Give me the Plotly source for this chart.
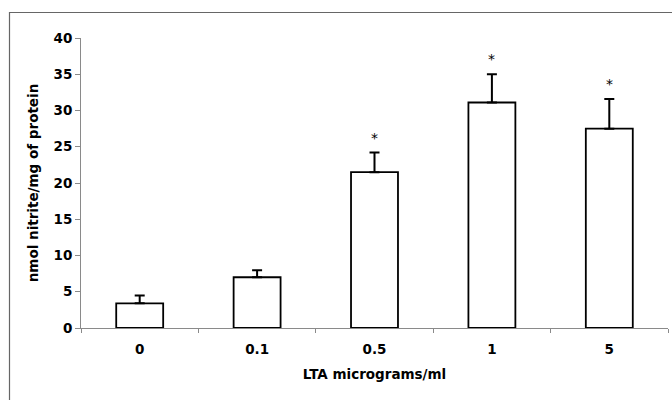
import plotly.graph_objects as go

categories = ["0", "0.1", "0.5", "1", "5"]
means = [3.4, 7.0, 21.5, 31.1, 27.5]
sem = [1.1, 0.95, 2.7, 3.9, 4.1]
significant = [False, False, True, True, True]
y_ticks = [0, 5, 10, 15, 20, 25, 30, 35, 40]

FONT = "DejaVu Sans"
AXIS_GREY = "#8a8a8a"
FS = 13.5

fig = go.Figure()
fig.add_trace(go.Bar(
    x=categories, y=means,
    marker=dict(color="white", line=dict(color="black", width=1.8)),
    error_y=dict(type="data", array=sem, symmetric=False,
                 arrayminus=[0] * len(sem), color="black",
                 thickness=2, width=5),
    width=0.4,
))

for i, (m, e, s) in enumerate(zip(means, sem, significant)):
    if s:
        fig.add_annotation(x=i, y=m + e, text="*", showarrow=False,
                           yanchor="middle", yshift=15,
                           font=dict(family=FONT, size=14, color="black"))

fig.update_layout(
    width=672, height=400,
    margin=dict(l=81, r=4, t=38, b=72),
    plot_bgcolor="white", paper_bgcolor="white",
    showlegend=False,
    font=dict(family=FONT, color="black"),
    xaxis=dict(
        type="category", tickson="boundaries", ticks="outside", ticklen=4,
        tickcolor=AXIS_GREY, showline=True, linecolor=AXIS_GREY, linewidth=1,
        showgrid=False, ticklabelstandoff=9,
        tickfont=dict(family=FONT, size=FS, weight="bold", color="black"),
        title=dict(text="LTA micrograms/ml", standoff=13,
                   font=dict(family=FONT, size=FS, weight="bold", color="black")),
    ),
    yaxis=dict(
        range=[0, 40], tickvals=y_ticks, ticks="outside", ticklen=5,
        tickcolor=AXIS_GREY, showline=True, linecolor=AXIS_GREY, linewidth=1,
        showgrid=False, zeroline=False,
        tickfont=dict(family=FONT, size=FS, weight="bold", color="black"),
        title=dict(text="nmol nitrite/mg of protein", standoff=11,
                   font=dict(family=FONT, size=FS, weight="bold", color="black")),
    ),
    shapes=[dict(type="rect", xref="paper", yref="paper",
                 x0=(9.5 - 81) / 587, x1=1.2,
                 y0=-0.5, y1=(328 - 12.5) / 290,
                 line=dict(color="#666666", width=1.2))],
)

fig.write_html("out.html")
